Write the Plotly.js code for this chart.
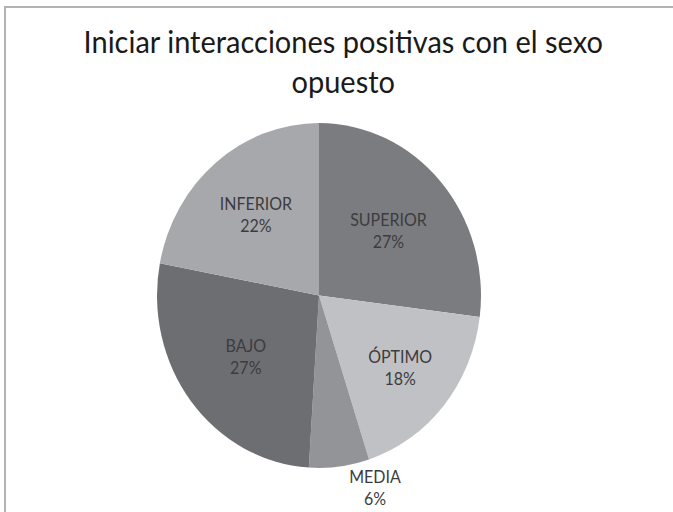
<!DOCTYPE html>
<html>
<head>
<meta charset="utf-8">
<script src="https://cdn.plot.ly/plotly-3.0.1.min.js"></script>
<style>
  html, body { margin: 0; padding: 0; background: #ffffff; overflow: hidden; }
  #wrap { position: relative; width: 673px; height: 512px; overflow: hidden; background: #fff; }
  #frame { position: absolute; left: 4px; top: 6px; width: 700px; height: 540px;
           border-left: 2px solid #b2b2b4; border-top: 2px solid #b2b2b4; pointer-events: none; }
  #chart { position: absolute; left: 0; top: 0; width: 673px; height: 481px;
           transform: scaleY(1.0644); transform-origin: 0 0; }
</style>
</head>
<body>
<div id="wrap">
  <div id="chart"></div>
  <div id="frame"></div>
</div>
<script>
const categories = ['SUPERIOR', 'ÓPTIMO', 'MEDIA', 'BAJO', 'INFERIOR'];
const values = [27, 18, 6, 27, 22];
const sliceColors = ['#7b7c80', '#c0c1c5', '#939497', '#6d6e72', '#a7a8ac'];
const textPositions = ['inside', 'inside', 'outside', 'inside', 'inside'];
const chartTitle = 'Iniciar interacciones positivas con el sexo<br>opuesto';

const trace = {
  type: 'pie',
  labels: categories,
  values: values,
  sort: false,
  direction: 'clockwise',
  rotation: 0,
  marker: { colors: sliceColors, line: { width: 0 } },
  texttemplate: '%{label}<br>%{percent:.0%}',
  textinfo: 'label+percent',
  textposition: textPositions,
  insidetextorientation: 'horizontal',
  textfont: { family: 'Lato, sans-serif', size: 16, color: '#3c3c3e' },
  outsidetextfont: { family: 'Lato, sans-serif', size: 16, color: '#3c3c3e' },
  automargin: false,
  showlegend: false,
  hoverinfo: 'none',
  domain: { x: [0.2333, 0.7147], y: [0.0859, 0.7597] }
};

const layout = {
  width: 673,
  height: 481,
  margin: { l: 0, r: 0, t: 0, b: 0 },
  paper_bgcolor: 'rgba(0,0,0,0)',
  plot_bgcolor: 'rgba(0,0,0,0)',
  showlegend: false,
  title: {
    text: chartTitle,
    x: 0.51,
    xanchor: 'center',
    y: 0.897,
    yanchor: 'top',
    yref: 'container',
    font: { family: 'Lato, sans-serif', size: 29, color: '#1a1a1a' }
  },
  uniformtext: { mode: false }
};

Plotly.newPlot('chart', [trace], layout, { staticPlot: true, displayModeBar: false });
</script>
</body>
</html>
